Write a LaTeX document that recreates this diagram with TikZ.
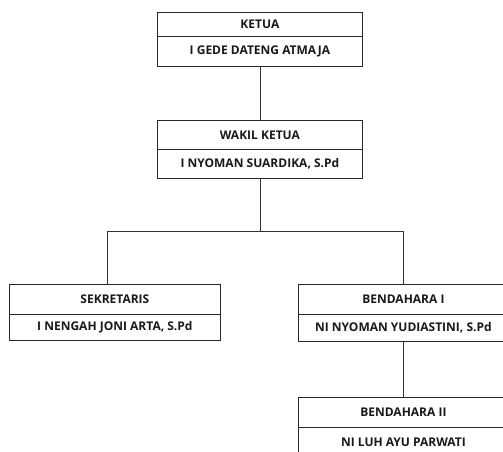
\documentclass[tikz,border=0pt]{standalone}
\usepackage{fontspec}
\setmainfont{Open Sans}
\begin{document}
\begin{tikzpicture}[x=1pt,y=-1pt,
  box/.style={draw=black!85, line width=0.8pt, inner sep=0pt, anchor=north west,
    font=\bfseries\fontsize{12}{14}\selectfont, text=black!90},
  link/.style={draw=black!80, line width=0.8pt}]
\useasboundingbox (0,0) rectangle (503,451);
\clip (0,0) rectangle (503,451);
% KETUA
\node[box, minimum width=205pt, minimum height=24pt] (k1) at (157,12) {KETUA};
\node[box, minimum width=205pt, minimum height=30pt] (k2) at (157,36) {I GEDE DATENG ATMAJA};
% WAKIL KETUA
\node[box, minimum width=205pt, minimum height=29pt] (w1) at (157,120) {WAKIL KETUA};
\node[box, minimum width=205pt, minimum height=29pt] (w2) at (157,149) {I NYOMAN SUARDIKA, S.Pd};
% SEKRETARIS
\node[box, minimum width=211pt, minimum height=30pt] (s1) at (9,284) {SEKRETARIS};
\node[box, minimum width=211pt, minimum height=26pt] (s2) at (9,314) {I NENGAH JONI ARTA, S.Pd};
% BENDAHARA I
\node[box, minimum width=210pt, minimum height=30pt] (b1) at (298,284) {BENDAHARA I};
\node[box, minimum width=210pt, minimum height=27pt] (b2) at (298,314) {NI NYOMAN YUDIASTINI, S.Pd};
% BENDAHARA II
\node[box, minimum width=210pt, minimum height=30pt] (c1) at (298,397) {BENDAHARA II};
\node[box, minimum width=210pt, minimum height=30pt] (c2) at (298,427) {NI LUH AYU PARWATI};
% connectors
\draw[link] (k2.south) -- (w1.north);
\draw[link] (w2.south) -- ++(0,53) coordinate (hub);
\draw[link] (hub) -| ([xshift=-7.5pt]s1.north);
\draw[link] (hub) -| (b1.north);
\draw[link] (b2.south) -- (c1.north);
\end{tikzpicture}
\end{document}
